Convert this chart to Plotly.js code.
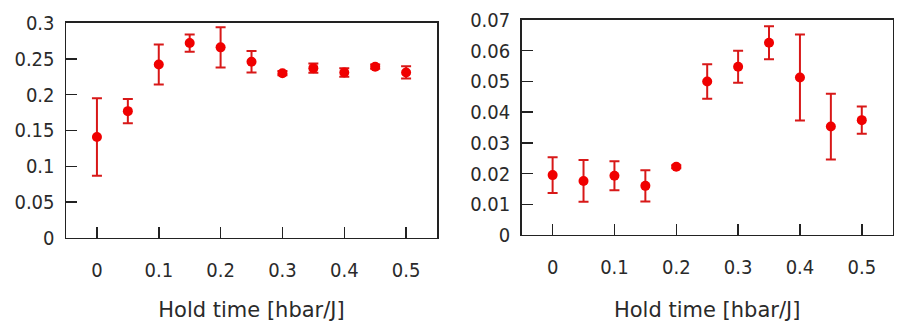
<!DOCTYPE html>
<html><head><meta charset="utf-8">
<script src="https://cdn.plot.ly/plotly-3.0.1.min.js"></script>
<style>html,body{margin:0;padding:0;background:#fff;}#c{width:897px;height:322px;}</style>
</head><body><div id="c"></div>
<script>
var holdTime = [0, 0.05, 0.1, 0.15, 0.2, 0.25, 0.3, 0.35, 0.4, 0.45, 0.5];
var leftValues = [0.141, 0.177, 0.242, 0.272, 0.266, 0.246, 0.230, 0.237, 0.231, 0.239, 0.231];
var leftErrors = [0.054, 0.017, 0.028, 0.012, 0.028, 0.015, 0.003, 0.0065, 0.006, 0.003, 0.0085];
var rightValues = [0.0195, 0.0176, 0.0193, 0.0160, 0.0222, 0.0500, 0.0548, 0.0626, 0.0513, 0.0353, 0.0374];
var rightErrors = [0.0058, 0.0068, 0.0047, 0.0051, 0.0005, 0.0056, 0.0052, 0.0054, 0.014, 0.0107, 0.0044];
var xTickVals = [0, 0.1, 0.2, 0.3, 0.4, 0.5];
var xTitle = "Hold time [hbar/J]";

var FONT = "DejaVu Sans Condensed, DejaVu Sans, sans-serif";
var TITLE_FONT = "DejaVu Sans, sans-serif";
var red = "#f00000";
var errRed = "#d81818";

function trace(y, e, xa, ya) {
  return {
    x: holdTime, y: y, xaxis: xa, yaxis: ya, type: "scatter", mode: "markers",
    marker: {color: red, size: 10},
    error_y: {type: "data", array: e, visible: true, color: errRed, thickness: 2, width: 5},
    showlegend: false, hoverinfo: "skip"
  };
}

var axCommon = {
  showline: true, mirror: true, linecolor: "#222", linewidth: 1.5,
  ticks: "inside", ticklen: 11, tickwidth: 1.5, tickcolor: "#222",
  showgrid: false, zeroline: false, fixedrange: true,
  tickfont: {family: FONT, size: 20, color: "#2a2a2a"}
};

function xa(domain, anchor) {
  return Object.assign({}, axCommon, {
    domain: domain, anchor: anchor, range: [-0.05, 0.55], tickmode: "array",
    tickvals: xTickVals, ticklabelstandoff: 14,
    title: {text: xTitle, font: {family: TITLE_FONT, size: 21, color: "#2a2a2a"}, standoff: 26}
  });
}
function ya(domain, anchor, range, dtick) {
  return Object.assign({}, axCommon, {
    domain: domain, anchor: anchor, range: range, dtick: dtick, tick0: 0,
    ticklabelstandoff: 6
  });
}

var layout = {
  width: 897, height: 322,
  margin: {l: 0, r: 0, t: 0, b: 0},
  paper_bgcolor: "#fff", plot_bgcolor: "#fff",
  xaxis: xa([0.0736, 0.4872], "y"),
  yaxis: ya([0.2609, 0.9286], "x", [0, 0.3], 0.05),
  xaxis2: xa([0.5816, 0.9952], "y2"),
  yaxis2: ya([0.2702, 0.9379], "x2", [0, 0.07], 0.01)
};

Plotly.newPlot("c", [trace(leftValues, leftErrors, "x", "y"), trace(rightValues, rightErrors, "x2", "y2")], layout, {displayModeBar: false, staticPlot: true});
</script>
</body></html>
